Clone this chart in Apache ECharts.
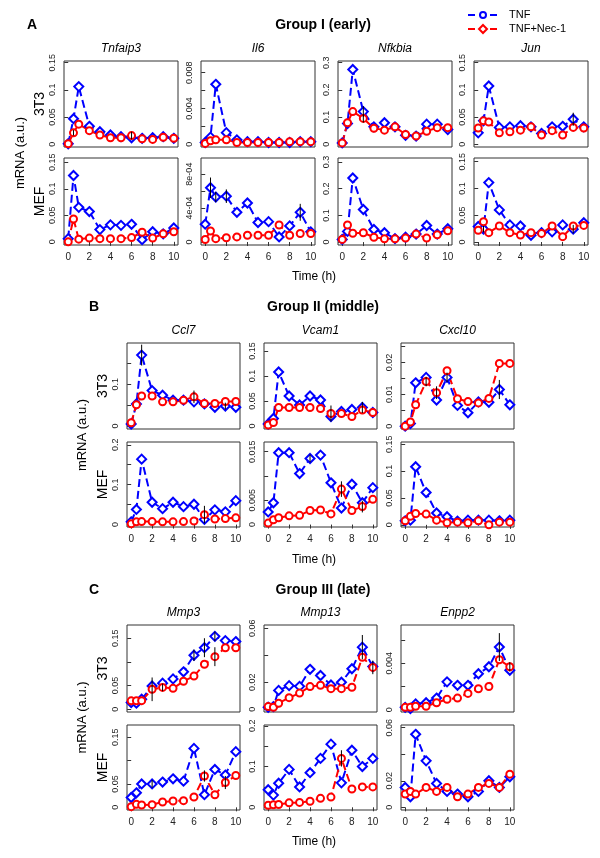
<!DOCTYPE html>
<html>
<head>
<meta charset="utf-8">
<script src="https://cdn.jsdelivr.net/npm/echarts@6/dist/echarts.min.js"></script>
<style>
  html, body { margin: 0; background: #fff; }
  #main { width: 600px; height: 858px; }
</style>
</head>
<body>
<div id="main"></div>
<script>
// time points (h)
const times = [0, 0.5, 1, 2, 3, 4, 5, 6, 7, 8, 9, 10]
const xTicks = [0, 2, 4, 6, 8, 10]

// Group I (early) - 3T3
const tnfaip3_3T3_tnf = [0.001, 0.047, 0.106, 0.033, 0.023, 0.017, 0.014, 0.012, 0.011, 0.012, 0.014, 0.011]
const tnfaip3_3T3_nec = [0.001, 0.021, 0.037, 0.025, 0.017, 0.012, 0.012, 0.016, 0.010, 0.009, 0.013, 0.011]
const il6_3T3_tnf = [0.0002, 0.0008, 0.0067, 0.0013, 0.0005, 0.0003, 0.0003, 0.0002, 0.0002, 0.0002, 0.0003, 0.0003]
const il6_3T3_nec = [0.0001, 0.0004, 0.0005, 0.0005, 0.0002, 0.0002, 0.0002, 0.0002, 0.0002, 0.0003, 0.0003, 0.0003]
const nfkbia_3T3_tnf = [0.005, 0.076, 0.275, 0.12, 0.064, 0.079, 0.064, 0.033, 0.03, 0.074, 0.074, 0.054]
const nfkbia_3T3_nec = [0.005, 0.079, 0.12, 0.095, 0.059, 0.052, 0.064, 0.036, 0.03, 0.048, 0.061, 0.061]
const jun_3T3_tnf = [0.021, 0.043, 0.107, 0.031, 0.032, 0.034, 0.032, 0.02, 0.032, 0.033, 0.046, 0.032]
const jun_3T3_nec = [0.030, 0.043, 0.041, 0.021, 0.023, 0.026, 0.032, 0.017, 0.025, 0.017, 0.031, 0.030]
// Group I (early) - MEF
const tnfaip3_MEF_tnf = [0.006, 0.125, 0.065, 0.057, 0.023, 0.032, 0.031, 0.033, 0.004, 0.019, 0.015, 0.026]
const tnfaip3_MEF_nec = [0.0, 0.043, 0.005, 0.007, 0.006, 0.006, 0.006, 0.008, 0.018, 0.007, 0.015, 0.019]
const il6_MEF_tnf = [0.00021, 0.00064, 0.00053, 0.00054, 0.00035, 0.00046, 0.00023, 0.00024, 0.00006, 0.00019, 0.00035, 0.00012]
const il6_MEF_nec = [0.00003, 0.00013, 0.00004, 0.00005, 0.00006, 0.00008, 0.00008, 0.00008, 0.0002, 0.00008, 0.0001, 0.0001]
const nfkbia_MEF_tnf = [0.01, 0.04, 0.24, 0.122, 0.047, 0.035, 0.013, 0.018, 0.03, 0.062, 0.03, 0.05]
const nfkbia_MEF_nec = [0.01, 0.064, 0.033, 0.035, 0.018, 0.012, 0.012, 0.015, 0.03, 0.015, 0.027, 0.042]
const jun_MEF_tnf = [0.029, 0.024, 0.111, 0.06, 0.032, 0.03, 0.0125, 0.0175, 0.019, 0.032, 0.024, 0.036]
const jun_MEF_nec = [0.022, 0.038, 0.0175, 0.03, 0.0175, 0.013, 0.0175, 0.016, 0.03, 0.01, 0.03, 0.031]

// Group II (middle)
const ccl7_3T3_tnf = [0.005, 0.053, 0.17, 0.085, 0.074, 0.062, 0.062, 0.058, 0.053, 0.045, 0.048, 0.045]
const ccl7_3T3_nec = [0.008, 0.051, 0.072, 0.072, 0.058, 0.058, 0.062, 0.07, 0.054, 0.054, 0.059, 0.059]
const vcam1_3T3_tnf = [0.004, 0.015, 0.108, 0.06, 0.042, 0.06, 0.052, 0.019, 0.029, 0.033, 0.037, 0.027]
const vcam1_3T3_nec = [0.002, 0.007, 0.037, 0.037, 0.037, 0.037, 0.035, 0.025, 0.025, 0.019, 0.032, 0.027]
const cxcl10_3T3_tnf = [0.0, 0.0008, 0.0136, 0.0153, 0.0082, 0.0153, 0.0065, 0.0042, 0.0076, 0.0075, 0.0115, 0.0067]
const cxcl10_3T3_nec = [0.0, 0.0013, 0.0067, 0.014, 0.0105, 0.0174, 0.0086, 0.0077, 0.0073, 0.0087, 0.0197, 0.0197]
const ccl7_MEF_tnf = [0.007, 0.038, 0.164, 0.056, 0.04, 0.056, 0.045, 0.051, 0.013, 0.037, 0.032, 0.06]
const ccl7_MEF_nec = [0.002, 0.007, 0.0075, 0.0075, 0.007, 0.007, 0.0075, 0.009, 0.025, 0.014, 0.015, 0.017]
const vcam1_MEF_tnf = [0.0026, 0.0045, 0.0148, 0.0148, 0.0105, 0.0136, 0.0143, 0.0086, 0.0034, 0.0083, 0.0045, 0.0076]
const vcam1_MEF_nec = [0.0003, 0.001, 0.0014, 0.0018, 0.0019, 0.0029, 0.003, 0.0022, 0.0073, 0.0029, 0.0037, 0.0052]
const cxcl10_MEF_tnf = [0.0075, 0.0087, 0.108, 0.06, 0.022, 0.015, 0.007, 0.0087, 0.0087, 0.0087, 0.0075, 0.0087]
const cxcl10_MEF_nec = [0.0075, 0.016, 0.021, 0.02, 0.0087, 0.004, 0.005, 0.004, 0.0075, 0.0, 0.005, 0.005]

// Group III (late)
const mmp3_3T3_tnf = [0.014, 0.0127, 0.021, 0.049, 0.055, 0.064, 0.079, 0.114, 0.13, 0.154, 0.145, 0.143]
const mmp3_3T3_nec = [0.0176, 0.0176, 0.018, 0.042, 0.046, 0.044, 0.059, 0.07, 0.095, 0.111, 0.13, 0.13]
const mmp13_3T3_tnf = [0.0015, 0.002, 0.014, 0.0175, 0.017, 0.0296, 0.025, 0.018, 0.02, 0.03, 0.046, 0.0316]
const mmp13_3T3_nec = [0.002, 0.0015, 0.0045, 0.0086, 0.012, 0.0168, 0.0178, 0.0153, 0.0153, 0.0163, 0.0385, 0.031]
const enpp2_3T3_tnf = [0.0002, 0.0001, 0.0005, 0.0006, 0.001, 0.0024, 0.0021, 0.0021, 0.0031, 0.0037, 0.0054, 0.0034]
const enpp2_3T3_nec = [0.0002, 0.0002, 0.0003, 0.0003, 0.0006, 0.0009, 0.001, 0.0014, 0.0018, 0.002, 0.0043, 0.0037]
const mmp3_MEF_tnf = [0.021, 0.031, 0.05, 0.05, 0.054, 0.061, 0.056, 0.126, 0.027, 0.081, 0.069, 0.119]
const mmp3_MEF_nec = [0.0014, 0.0064, 0.005, 0.0057, 0.0114, 0.0136, 0.0143, 0.022, 0.067, 0.027, 0.053, 0.068]
const mmp13_MEF_tnf = [0.043, 0.03, 0.059, 0.093, 0.05, 0.085, 0.12, 0.155, 0.06, 0.14, 0.1, 0.12]
const mmp13_MEF_nec = [0.005, 0.006, 0.007, 0.011, 0.012, 0.015, 0.022, 0.025, 0.12, 0.045, 0.05, 0.05]
const enpp2_MEF_tnf = [0.015, 0.008, 0.055, 0.035, 0.018, 0.012, 0.01, 0.008, 0.012, 0.02, 0.015, 0.023]
const enpp2_MEF_nec = [0.01, 0.012, 0.01, 0.015, 0.012, 0.015, 0.008, 0.01, 0.015, 0.018, 0.015, 0.025]

// error bars: [gene, cell, series, time index, half width]
const errBars = [
  ['Tnfaip3', '3T3', 'nec', 7, 0.007], ['Tnfaip3', '3T3', 'nec', 1, 0.005],
  ['Il6', 'MEF', 'tnf', 1, 0.00012], ['Il6', 'MEF', 'tnf', 2, 0.00006], ['Il6', 'MEF', 'tnf', 3, 0.00008], ['Il6', 'MEF', 'tnf', 10, 0.0001],
  ['Nfkbia', '3T3', 'tnf', 3, 0.02], ['Nfkbia', '3T3', 'nec', 3, 0.015],
  ['Jun', '3T3', 'tnf', 10, 0.012], ['Jun', 'MEF', 'tnf', 10, 0.008], ['Jun', 'MEF', 'tnf', 1, 0.006],
  ['Ccl7', '3T3', 'tnf', 2, 0.025], ['Ccl7', '3T3', 'nec', 7, 0.015], ['Ccl7', '3T3', 'tnf', 10, 0.008],
  ['Ccl7', 'MEF', 'nec', 8, 0.022],
  ['Vcam1', '3T3', 'nec', 7, 0.016], ['Vcam1', '3T3', 'tnf', 10, 0.011],
  ['Vcam1', 'MEF', 'nec', 8, 0.0016], ['Vcam1', 'MEF', 'nec', 10, 0.0012], ['Vcam1', 'MEF', 'tnf', 5, 0.0008],
  ['Cxcl10', '3T3', 'nec', 4, 0.002], ['Cxcl10', '3T3', 'nec', 3, 0.0015], ['Cxcl10', '3T3', 'tnf', 5, 0.0015], ['Cxcl10', '3T3', 'tnf', 10, 0.003],
  ['Mmp3', '3T3', 'nec', 3, 0.025], ['Mmp3', '3T3', 'nec', 4, 0.008], ['Mmp3', '3T3', 'tnf', 7, 0.012],
  ['Mmp3', '3T3', 'tnf', 8, 0.02], ['Mmp3', '3T3', 'nec', 9, 0.02], ['Mmp3', '3T3', 'tnf', 9, 0.01],
  ['Mmp13', '3T3', 'tnf', 10, 0.009], ['Mmp13', '3T3', 'nec', 11, 0.005],
  ['Enpp2', '3T3', 'tnf', 10, 0.0012], ['Enpp2', '3T3', 'nec', 11, 0.0004],
  ['Mmp3', 'MEF', 'tnf', 3, 0.008], ['Mmp3', 'MEF', 'nec', 8, 0.012], ['Mmp3', 'MEF', 'nec', 10, 0.014],
  ['Mmp13', 'MEF', 'nec', 8, 0.02]
]

// panel layout (pixels)
const layout = {
  A: { lefts: [64, 201, 338, 474], w: 114, rows: [[61, 86], [158, 87]] },
  B: { lefts: [127, 264, 401], w: 113, rows: [[343, 86], [442, 85]] },
  C: { lefts: [127, 264, 401], w: 113, rows: [[625, 87], [725, 85]] }
}

const panels = [
  { g: 'A', row: 0, col: 0, gene: 'Tnfaip3', cell: '3T3', tnf: tnfaip3_3T3_tnf, nec: tnfaip3_3T3_nec, ylim: [-0.005, 0.153], ticks: [0, 0.05, 0.1, 0.15], labels: ['0', '0.05', '0.1', '0.15'] },
  { g: 'A', row: 0, col: 1, gene: 'Il6', cell: '3T3', tnf: il6_3T3_tnf, nec: il6_3T3_nec, ylim: [-0.0003, 0.0093], ticks: [0, 0.002, 0.004, 0.006, 0.008], labels: ['0', '0.004', '0.008'] },
  { g: 'A', row: 0, col: 2, gene: 'Nfkbia', cell: '3T3', tnf: nfkbia_3T3_tnf, nec: nfkbia_3T3_nec, ylim: [-0.01, 0.306], ticks: [0, 0.1, 0.2, 0.3], labels: ['0', '0.1', '0.2', '0.3'] },
  { g: 'A', row: 0, col: 3, gene: 'Jun', cell: '3T3', tnf: jun_3T3_tnf, nec: jun_3T3_nec, ylim: [-0.005, 0.153], ticks: [0, 0.05, 0.1, 0.15], labels: ['0', '0.05', '0.1', '0.15'] },
  { g: 'A', row: 1, col: 0, gene: 'Tnfaip3', cell: 'MEF', tnf: tnfaip3_MEF_tnf, nec: tnfaip3_MEF_nec, ylim: [-0.006, 0.158], ticks: [0, 0.05, 0.1, 0.15], labels: ['0', '0.05', '0.1', '0.15'] },
  { g: 'A', row: 1, col: 1, gene: 'Il6', cell: 'MEF', tnf: il6_MEF_tnf, nec: il6_MEF_nec, ylim: [-0.000035, 0.00099], ticks: [0, 0.0002, 0.0004, 0.0006, 0.0008], labels: ['0', '4e-04', '8e-04'] },
  { g: 'A', row: 1, col: 2, gene: 'Nfkbia', cell: 'MEF', tnf: nfkbia_MEF_tnf, nec: nfkbia_MEF_nec, ylim: [-0.011, 0.315], ticks: [0, 0.1, 0.2, 0.3], labels: ['0', '0.1', '0.2', '0.3'] },
  { g: 'A', row: 1, col: 3, gene: 'Jun', cell: 'MEF', tnf: jun_MEF_tnf, nec: jun_MEF_nec, ylim: [-0.0056, 0.157], ticks: [0, 0.05, 0.1, 0.15], labels: ['0', '0.05', '0.1', '0.15'] },
  { g: 'B', row: 0, col: 0, gene: 'Ccl7', cell: '3T3', tnf: ccl7_3T3_tnf, nec: ccl7_3T3_nec, ylim: [-0.007, 0.199], ticks: [0, 0.05, 0.1, 0.15, 0.2], labels: ['0', '0.1', '0.2'] },
  { g: 'B', row: 0, col: 1, gene: 'Vcam1', cell: '3T3', tnf: vcam1_3T3_tnf, nec: vcam1_3T3_nec, ylim: [-0.006, 0.166], ticks: [0, 0.05, 0.1, 0.15], labels: ['0', '0.05', '0.1', '0.15'] },
  { g: 'B', row: 0, col: 2, gene: 'Cxcl10', cell: '3T3', tnf: cxcl10_3T3_tnf, nec: cxcl10_3T3_nec, ylim: [-0.0009, 0.0261], ticks: [0, 0.005, 0.01, 0.015, 0.02, 0.025], labels: ['0', '0.01', '0.02'] },
  { g: 'B', row: 1, col: 0, gene: 'Ccl7', cell: 'MEF', tnf: ccl7_MEF_tnf, nec: ccl7_MEF_nec, ylim: [-0.006, 0.207], ticks: [0, 0.05, 0.1, 0.15, 0.2], labels: ['0', '0.1', '0.2'] },
  { g: 'B', row: 1, col: 1, gene: 'Vcam1', cell: 'MEF', tnf: vcam1_MEF_tnf, nec: vcam1_MEF_nec, ylim: [-0.0005, 0.017], ticks: [0, 0.005, 0.01, 0.015], labels: ['0', '0.005', '0.015'] },
  { g: 'B', row: 1, col: 2, gene: 'Cxcl10', cell: 'MEF', tnf: cxcl10_MEF_tnf, nec: cxcl10_MEF_nec, ylim: [-0.004, 0.154], ticks: [0, 0.05, 0.1, 0.15], labels: ['0', '0.05', '0.1', '0.15'] },
  { g: 'C', row: 0, col: 0, gene: 'Mmp3', cell: '3T3', tnf: mmp3_3T3_tnf, nec: mmp3_3T3_nec, ylim: [-0.006, 0.178], ticks: [0, 0.05, 0.1, 0.15], labels: ['0', '0.05', '0.15'] },
  { g: 'C', row: 0, col: 1, gene: 'Mmp13', cell: '3T3', tnf: mmp13_3T3_tnf, nec: mmp13_3T3_nec, ylim: [-0.002, 0.0624], ticks: [0, 0.02, 0.04, 0.06], labels: ['0', '0.02', '0.06'] },
  { g: 'C', row: 0, col: 2, gene: 'Enpp2', cell: '3T3', tnf: enpp2_3T3_tnf, nec: enpp2_3T3_nec, ylim: [-0.0002, 0.0073], ticks: [0, 0.002, 0.004, 0.006], labels: ['0', '0.004'] },
  { g: 'C', row: 1, col: 0, gene: 'Mmp3', cell: 'MEF', tnf: mmp3_MEF_tnf, nec: mmp3_MEF_nec, ylim: [-0.0057, 0.176], ticks: [0, 0.05, 0.1, 0.15], labels: ['0', '0.05', '0.15'] },
  { g: 'C', row: 1, col: 1, gene: 'Mmp13', cell: 'MEF', tnf: mmp13_MEF_tnf, nec: mmp13_MEF_nec, ylim: [-0.0066, 0.202], ticks: [0, 0.05, 0.1, 0.15, 0.2], labels: ['0', '0.1', '0.2'] },
  { g: 'C', row: 1, col: 2, gene: 'Enpp2', cell: 'MEF', tnf: enpp2_MEF_tnf, nec: enpp2_MEF_nec, ylim: [-0.002, 0.062], ticks: [0, 0.02, 0.04, 0.06], labels: ['0', '0.02', '0.06'] }
]

const BLUE = '#0000ff'
const RED = '#ff0000'
const FONT = '"Liberation Sans", Arial, sans-serif'

const grid = [], xAxis = [], yAxis = [], series = [], graphic = []

panels.forEach((p, i) => {
  const lay = layout[p.g]
  const [top, h] = lay.rows[p.row]
  const left = lay.lefts[p.col]
  grid.push({ left: left, top: top, width: lay.w, height: h, show: true, borderColor: '#333', borderWidth: 1 })
  xAxis.push({
    type: 'value', gridIndex: i, min: -0.4, max: 10.4,
    axisLine: { show: false }, splitLine: { show: false },
    axisTick: { show: p.row === 1, length: 4, customValues: xTicks, lineStyle: { color: '#333' } },
    axisLabel: { show: p.row === 1, customValues: xTicks, fontSize: 10, fontFamily: FONT, color: '#222', margin: 7 }
  })
  yAxis.push({
    type: 'value', gridIndex: i, min: p.ylim[0], max: p.ylim[1],
    axisLine: { show: false }, splitLine: { show: false },
    axisTick: { show: true, length: 4, customValues: p.ticks, lineStyle: { color: '#333' } },
    axisLabel: {
      customValues: p.labels.map(Number), rotate: 90, fontSize: 9, fontFamily: FONT, color: '#222', margin: 7,
      formatter: v => p.labels.find(s => Math.abs(Number(s) - v) < 1e-12) || ''
    }
  })
  series.push({
    type: 'line', name: 'TNF', xAxisIndex: i, yAxisIndex: i,
    data: times.map((t, k) => [t, p.tnf[k]]),
    symbol: 'diamond', symbolSize: 9,
    lineStyle: { color: BLUE, width: 2, type: [8, 4] },
    itemStyle: { color: '#fff', borderColor: BLUE, borderWidth: 2 },
    animation: false, silent: true
  })
  series.push({
    type: 'line', name: 'TNF+Nec-1', xAxisIndex: i, yAxisIndex: i,
    data: times.map((t, k) => [t, p.nec[k]]),
    symbol: 'circle', symbolSize: 7,
    lineStyle: { color: RED, width: 2, type: [8, 4] },
    itemStyle: { color: '#fff', borderColor: RED, borderWidth: 2 },
    animation: false, silent: true
  })
  const errs = errBars.filter(e => e[0] === p.gene && e[1] === p.cell).map(e => {
    const v = p[e[2]][e[3]]
    return [times[e[3]], v - e[4], v + e[4]]
  })
  if (errs.length) {
    series.push({
      type: 'custom', xAxisIndex: i, yAxisIndex: i, data: errs, z: 5, silent: true, animation: false,
      encode: { x: 0, y: [1, 2] },
      renderItem: (params, api) => {
        const a = api.coord([api.value(0), api.value(1)])
        const b = api.coord([api.value(0), api.value(2)])
        return { type: 'line', shape: { x1: a[0], y1: a[1], x2: b[0], y2: b[1] }, style: { stroke: '#000', lineWidth: 1 } }
      }
    })
  }
  // gene name above the 3T3 panel
  if (p.row === 0) {
    graphic.push({ type: 'text', x: left + lay.w / 2, y: top - 12,
      style: { text: p.gene, font: 'italic 12px ' + FONT, fill: '#000', align: 'center', verticalAlign: 'middle' } })
  }
})

// group titles, row labels, axis titles
const groupText = [
  { g: 'A', letter: 'A', title: 'Group I (early)', ty: 25, lx: 32, rowX: 40, mrnaX: 20, timeY: 277 },
  { g: 'B', letter: 'B', title: 'Group II (middle)', ty: 307, lx: 94, rowX: 103, mrnaX: 82, timeY: 560 },
  { g: 'C', letter: 'C', title: 'Group III (late)', ty: 590, lx: 94, rowX: 103, mrnaX: 82, timeY: 842 }
]
groupText.forEach(t => {
  const lay = layout[t.g]
  graphic.push({ type: 'text', x: t.lx, y: t.ty, style: { text: t.letter, font: 'bold 14px ' + FONT, fill: '#000', align: 'center', verticalAlign: 'middle' } })
  graphic.push({ type: 'text', x: 323, y: t.ty, style: { text: t.title, font: 'bold 14px ' + FONT, fill: '#000', align: 'center', verticalAlign: 'middle' } })
  const r0 = lay.rows[0], r1 = lay.rows[1]
  graphic.push({ type: 'text', x: t.rowX, y: r0[0] + r0[1] / 2, rotation: Math.PI / 2, style: { text: '3T3', font: '14px ' + FONT, fill: '#000', align: 'center', verticalAlign: 'middle' } })
  graphic.push({ type: 'text', x: t.rowX, y: r1[0] + r1[1] / 2, rotation: Math.PI / 2, style: { text: 'MEF', font: '14px ' + FONT, fill: '#000', align: 'center', verticalAlign: 'middle' } })
  graphic.push({ type: 'text', x: t.mrnaX, y: (r0[0] + r1[0] + r1[1]) / 2, rotation: Math.PI / 2, style: { text: 'mRNA (a.u.)', font: '13px ' + FONT, fill: '#000', align: 'center', verticalAlign: 'middle' } })
  graphic.push({ type: 'text', x: 314, y: t.timeY, style: { text: 'Time (h)', font: '12px ' + FONT, fill: '#000', align: 'center', verticalAlign: 'middle' } })
})

// legend (top right)
graphic.push(
  { type: 'line', shape: { x1: 468, y1: 15, x2: 498, y2: 15 }, style: { stroke: BLUE, lineWidth: 2, lineDash: [7, 4] } },
  { type: 'circle', shape: { cx: 483, cy: 15, r: 3 }, style: { fill: '#fff', stroke: BLUE, lineWidth: 2 } },
  { type: 'text', x: 509, y: 15, style: { text: 'TNF', font: '11px ' + FONT, fill: '#000', align: 'left', verticalAlign: 'middle' } },
  { type: 'line', shape: { x1: 468, y1: 29, x2: 498, y2: 29 }, style: { stroke: RED, lineWidth: 2, lineDash: [7, 4] } },
  { type: 'polygon', shape: { points: [[483, 25], [487, 29], [483, 33], [479, 29]] }, style: { fill: '#fff', stroke: RED, lineWidth: 2 } },
  { type: 'text', x: 509, y: 29, style: { text: 'TNF+Nec-1', font: '11px ' + FONT, fill: '#000', align: 'left', verticalAlign: 'middle' } }
)

const myChart = echarts.init(document.getElementById('main'))
myChart.setOption({
  animation: false,
  backgroundColor: '#fff',
  grid: grid,
  xAxis: xAxis,
  yAxis: yAxis,
  series: series,
  graphic: graphic
})
</script>
</body>
</html>
